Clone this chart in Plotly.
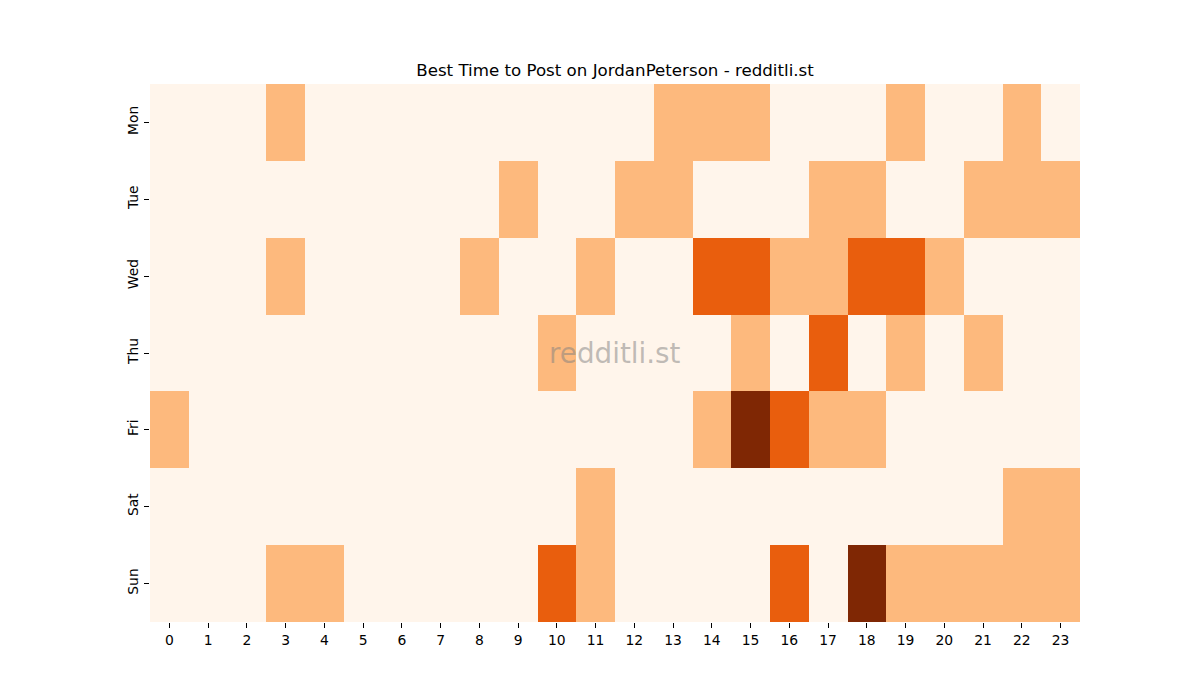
import plotly.graph_objects as go

days = ["Mon", "Tue", "Wed", "Thu", "Fri", "Sat", "Sun"]
hours = list(range(24))

mon = [0,0,0,1,0,0,0,0,0,0,0,0,0,1,1,1,0,0,0,1,0,0,1,0]
tue = [0,0,0,0,0,0,0,0,0,1,0,0,1,1,0,0,0,1,1,0,0,1,1,1]
wed = [0,0,0,1,0,0,0,0,1,0,0,1,0,0,2,2,1,1,2,2,1,0,0,0]
thu = [0,0,0,0,0,0,0,0,0,0,1,0,0,0,0,1,0,2,0,1,0,1,0,0]
fri = [1,0,0,0,0,0,0,0,0,0,0,0,0,0,1,3,2,1,1,0,0,0,0,0]
sat = [0,0,0,0,0,0,0,0,0,0,0,1,0,0,0,0,0,0,0,0,0,0,1,1]
sun = [0,0,0,1,1,0,0,0,0,0,2,1,0,0,0,0,2,0,3,1,1,1,1,1]

z = [mon, tue, wed, thu, fri, sat, sun]

colorscale = [[0.0, "#fff5eb"], [1/3, "#fdb97d"], [2/3, "#e95e0d"], [1.0, "#7f2704"]]

fig = go.Figure(go.Heatmap(
    z=z, x=hours, y=days,
    colorscale=colorscale, zmin=0, zmax=3,
    showscale=False, hoverongaps=False,
))

font = "DejaVu Sans, sans-serif"
fig.update_layout(
    width=1200, height=700,
    margin=dict(l=142, r=128, t=76, b=86),
    paper_bgcolor="white", plot_bgcolor="white",
    font=dict(family=font, size=13.9, color="black"),
    title=dict(text="Best Time to Post on JordanPeterson - redditli.st",
               x=(142 + 1072) / 2 / 1200, xanchor="center",
               y=1 - 62 / 700, yanchor="middle", yref="container",
               font=dict(family=font, size=16.67, color="black")),
)
fig.update_xaxes(tickmode="array", tickvals=hours, ticktext=[str(h) for h in hours],
                 ticks="outside", ticklen=5, tickwidth=1, tickcolor="black",
                 showgrid=False, zeroline=False, showline=False,
                 range=[-0.5, 23.5], tickfont=dict(size=13.9))
fig.update_yaxes(autorange="reversed", tickangle=-90,
                 ticks="outside", ticklen=5, tickwidth=1, tickcolor="black",
                 showgrid=False, zeroline=False, showline=False,
                 tickfont=dict(size=13.9))

fig.add_annotation(text="redditli.st", x=0.5, y=0.5, xref="paper", yref="paper",
                   showarrow=False, font=dict(family=font, size=27.8, color="rgba(128,128,128,0.5)"))

fig.write_html("out.html")
